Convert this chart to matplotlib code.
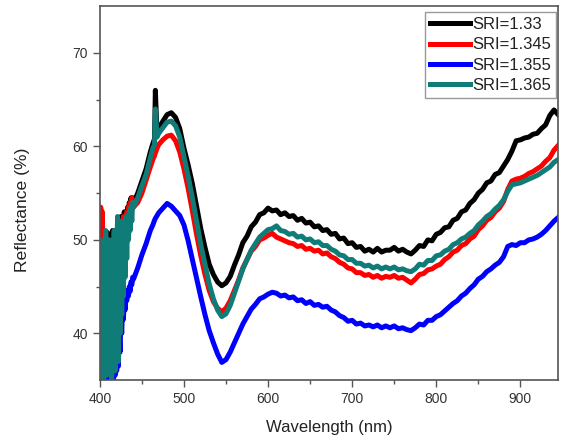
import matplotlib
matplotlib.use("Agg")
import matplotlib.pyplot as plt
import matplotlib.ticker as mticker

plt.rcParams['font.family'] = ['Liberation Sans', 'DejaVu Sans']

# wavelength grid (nm): 1 nm in the noisy start, 5 nm afterwards
wavelength = ([400 + i for i in range(41)]
              + [445, 450, 455, 460, 463, 465, 466, 468, 470]
              + [475 + 5 * i for i in range(95)])

sri_133 = [44, 49, 38, 48, 42, 50, 40, 47, 45, 50.8, 43, 49, 40, 47, 45, 51, 44, 49, 46, 51,
           47, 52, 48, 51.5, 49, 52.5, 50, 52, 50.5, 53, 51.5, 53, 52, 53.5, 52.5, 54, 53, 54.5,
           53.5, 54.5, 54,
           55.0, 56.3, 57.6, 59.4, 60.3, 60.8, 66.0, 61.3, 61.9,
           62.7, 63.4, 63.6, 63.1, 61.9, 59.8, 58.0, 56.0, 53.6, 51.2, 49.2, 47.4, 46.3, 45.5, 45.1,
           45.4, 46.1, 47.3, 48.4, 49.7, 50.4, 51.4, 51.9, 52.7, 52.9, 53.4, 53.1, 53.2, 52.7, 52.9,
           52.5, 52.6, 52.1, 52.3, 51.8, 51.9, 51.4, 51.5, 51.0, 51.1, 50.6, 50.7, 50.1, 50.2, 49.6,
           49.7, 49.2, 49.3, 48.8, 49.0, 48.7, 49.1, 48.7, 48.9, 48.9, 49.2, 48.8, 49.0, 48.7, 48.5,
           48.9, 49.4, 49.3, 50.0, 49.9, 50.6, 50.8, 51.3, 51.4, 52.1, 52.3, 53.0, 53.2, 53.9, 54.3,
           55.0, 55.4, 56.1, 56.3, 57.0, 57.2, 57.9, 58.6, 59.5, 60.6, 60.7, 60.9, 61.0, 61.3, 61.4,
           61.9, 62.3, 63.3, 63.9, 63.4]

sri_1345 = [46, 53.5, 52.5, 53, 47, 44, 49, 40, 47, 42, 50, 38, 48, 44, 50, 41, 49, 45, 50.5, 43,
            51, 46, 50, 44, 52, 47, 51.5, 48, 52.5, 49, 52, 50, 53, 51, 53.5, 52, 54, 53, 54.5,
            53.5, 53.5,
            54.0, 55.0, 56.4, 57.8, 58.6, 59.0, 59.3, 59.8, 60.2,
            60.7, 61.1, 61.2, 60.6, 59.4, 57.6, 55.5, 53.1, 50.6, 48.3, 46.3, 44.6, 43.4, 42.7, 42.3,
            42.7, 43.5, 44.6, 45.7, 47.0, 47.9, 48.8, 49.3, 50.0, 50.2, 50.5, 50.7, 50.3, 50.1, 49.9,
            49.7, 49.6, 49.3, 49.4, 49.0, 49.1, 48.8, 48.9, 48.5, 48.6, 48.2, 48.0, 47.6, 47.4, 47.0,
            46.9, 46.5, 46.5, 46.2, 46.3, 46.0, 46.2, 45.9, 46.1, 46.0, 46.2, 45.9, 46.0, 45.7, 45.4,
            45.8, 46.3, 46.4, 46.8, 46.9, 47.2, 47.4, 47.9, 48.2, 48.7, 48.9, 49.4, 49.6, 50.1, 50.4,
            51.1, 51.5, 52.1, 52.4, 53.0, 53.4, 54.1, 55.4, 56.3, 56.5, 56.6, 56.8, 57.1, 57.3, 57.6,
            57.9, 58.4, 58.8, 59.6, 60.1]

sri_1355 = [35.5, 34, 36.5, 35, 34.5, 36, 35, 37, 35.5, 36.5, 34.8, 36, 35, 37.5, 35.2, 38, 35, 39.5,
            35.5, 38.5, 36, 39.6, 36.5, 40, 38, 41.5, 40, 43, 41.5, 43.8, 42.5, 44.2, 43.5, 44.6,
            44, 45, 44.5, 45.5, 45.2, 46, 45.8,
            47.0, 48.4, 49.6, 51.0, 51.6, 52.1, 52.3, 52.6, 52.9,
            53.4, 53.9, 53.6, 53.1, 52.6, 51.6, 49.9, 47.9, 45.9, 43.9, 42.0, 40.3, 39.0, 37.8, 36.9,
            37.2, 38.0, 39.0, 40.0, 41.0, 41.8, 42.6, 43.1, 43.7, 43.9, 44.2, 44.4, 44.3, 44.0, 44.1,
            43.8, 43.9, 43.5, 43.6, 43.2, 43.4, 43.0, 43.1, 42.8, 42.9, 42.5, 42.3, 41.9, 41.7, 41.3,
            41.4, 41.0, 41.1, 40.8, 40.9, 40.7, 40.9, 40.6, 40.8, 40.6, 40.8, 40.5, 40.6, 40.4, 40.3,
            40.6, 41.0, 40.9, 41.4, 41.4, 41.8, 42.0, 42.4, 42.8, 43.2, 43.5, 44.0, 44.3, 44.8, 45.2,
            45.8, 46.1, 46.6, 46.9, 47.3, 47.6, 48.2, 49.3, 49.5, 49.4, 49.7, 49.7, 50.0, 50.1, 50.3,
            50.6, 51.0, 51.5, 52.0, 52.4]

sri_1365 = [35, 50, 36, 49, 35, 47, 36, 51, 35.5, 48, 37, 50, 36, 46, 35, 49, 38, 51, 36, 50,
            39, 52.5, 37, 51, 40, 52, 42, 51.5, 44, 52, 46, 52.5, 48, 52, 50, 53, 51, 53.5, 52,
            54, 53.5,
            54.5, 55.8, 57.0, 58.8, 59.8, 60.2, 64.0, 61.0, 61.4,
            62.0, 62.6, 62.7, 62.2, 61.0, 58.9, 56.8, 54.5, 52.0, 49.5, 47.4, 45.3, 43.7, 42.5, 41.8,
            42.1, 43.0, 44.3, 45.6, 46.9, 47.9, 48.9, 49.6, 50.3, 50.7, 51.1, 51.2, 51.5, 51.0, 50.9,
            50.6, 50.7, 50.3, 50.4, 50.0, 50.1, 49.7, 49.8, 49.4, 49.4, 49.0, 48.8, 48.4, 48.3, 47.9,
            47.9, 47.5, 47.5, 47.2, 47.3, 47.0, 47.2, 46.9, 47.1, 46.9, 47.1, 46.8, 46.9, 46.7, 46.6,
            46.9, 47.4, 47.3, 47.8, 47.8, 48.3, 48.4, 48.8, 49.0, 49.5, 49.7, 50.1, 50.3, 50.7, 51.0,
            51.6, 52.0, 52.5, 52.8, 53.3, 53.7, 54.3, 55.2, 55.9, 56.0, 56.1, 56.3, 56.5, 56.7, 56.9,
            57.2, 57.5, 57.8, 58.3, 58.6]

labels = ['SRI=1.33', 'SRI=1.345', 'SRI=1.355', 'SRI=1.365']
colors = ['black', '#ff0000', '#0000ff', '#107c78']

fig = plt.figure(figsize=(5.61, 4.40), dpi=100)
ax = fig.add_axes([0.178, 0.136, 0.817, 0.850])

for ys, lab, c in zip([sri_133, sri_1345, sri_1355, sri_1365], labels, colors):
    ax.plot(wavelength, ys, color=c, lw=3.6, label=lab)

ax.set_xlim(400, 945)
ax.set_ylim(35, 75)
ax.xaxis.set_major_locator(mticker.MultipleLocator(100))
ax.xaxis.set_minor_locator(mticker.MultipleLocator(50))
ax.yaxis.set_major_locator(mticker.FixedLocator([40, 50, 60, 70]))
ax.yaxis.set_minor_locator(mticker.FixedLocator([45, 55, 65]))

for s in ax.spines.values():
    s.set_color('#555555')
    s.set_linewidth(1.2)
ax.tick_params(which='major', direction='out', length=5, width=1, color='#555555',
               labelsize=10, labelcolor='#333333')
ax.tick_params(which='minor', direction='out', length=3, width=1, color='#555555')

ax.set_xlabel('Wavelength (nm)', fontsize=12, color='#222222', labelpad=10)
ax.set_ylabel('Reflectance (%)', fontsize=12.6, color='#222222')
ax.yaxis.set_label_coords(-0.153, 0.455)

leg = ax.legend(loc='upper right', bbox_to_anchor=(0.9956, 0.984), borderaxespad=0,
                fontsize=12, handlelength=2.4, handletextpad=0.15,
                labelspacing=0.32, borderpad=0.3, fancybox=False, framealpha=1)
leg.get_frame().set_edgecolor('#999999')
leg.get_frame().set_linewidth(1.0)
for t in leg.get_texts():
    t.set_color('#222222')

fig.savefig('out.png', dpi=100)
